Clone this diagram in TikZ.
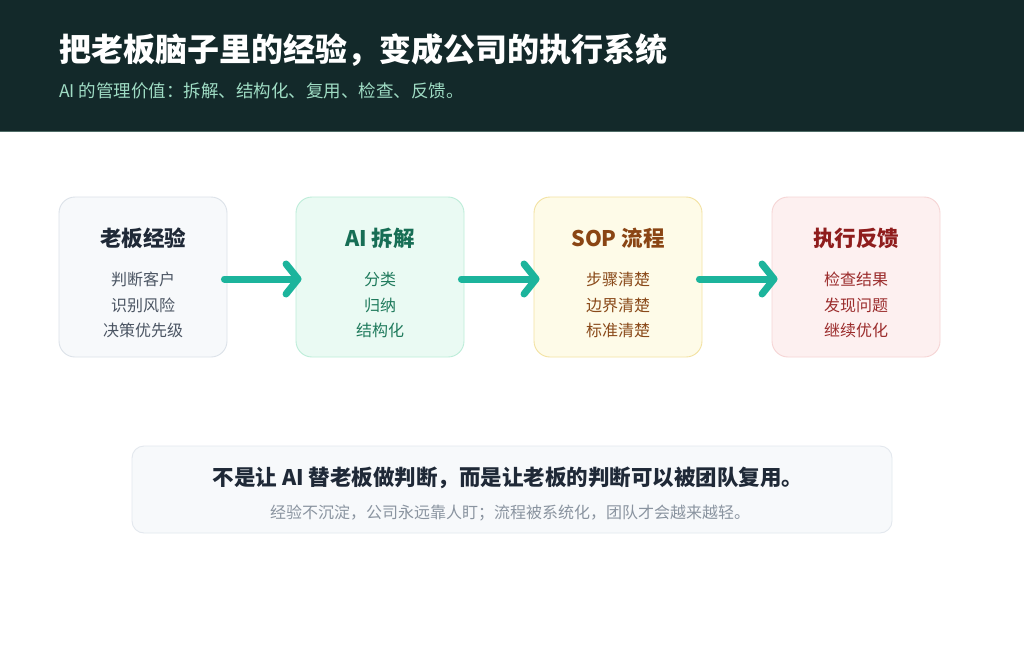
\documentclass[tikz,border=0pt]{standalone}
\usepackage{fontspec}
\setmainfont{Noto Sans CJK SC}
\usetikzlibrary{arrows.meta}
\definecolor{hdr}{HTML}{13292A}
\definecolor{hdrline}{HTML}{4E6B66}
\definecolor{subt}{HTML}{9FDCC4}
\definecolor{teal}{HTML}{1CB49C}
\definecolor{f1}{HTML}{F7F9FB}\definecolor{d1}{HTML}{DCE2E9}
\definecolor{f2}{HTML}{EAFAF3}\definecolor{d2}{HTML}{BDEDD9}
\definecolor{f3}{HTML}{FEFBE8}\definecolor{d3}{HTML}{F3E2A2}
\definecolor{f4}{HTML}{FDF0F0}\definecolor{d4}{HTML}{F6D5D5}
\definecolor{t1}{HTML}{1F2937}\definecolor{i1}{HTML}{4B5563}
\definecolor{t2}{HTML}{176E55}\definecolor{i2}{HTML}{1F7A5C}
\definecolor{t3}{HTML}{8A4514}\definecolor{i3}{HTML}{8A4A1A}
\definecolor{t4}{HTML}{8F1D1D}\definecolor{i4}{HTML}{9B2C2C}
\definecolor{bf}{HTML}{F7F9FB}\definecolor{bd}{HTML}{E3E8EE}
\definecolor{gr}{HTML}{8A94A0}
\tikzset{
  card/.style={draw, line width=0.9pt, rounded corners=16pt, minimum width=168pt, minimum height=160pt, inner sep=0pt},
  ttl/.style={font=\fontsize{21.5}{25}\selectfont\bfseries, anchor=center, inner sep=0pt},
  itm/.style={font=\fontsize{16}{19}\selectfont, anchor=center, inner sep=0pt},
  flow/.style={teal, line width=7pt, line cap=round, line join=round, -{Straight Barb[length=12pt,width=30pt,line cap=round,line join=round]}, shorten <=-3pt, shorten >=-6pt}
}
\begin{document}
\begin{tikzpicture}[x=1pt,y=-1pt]
\useasboundingbox[fill=white] (0,0) rectangle (1024,658);
\fill[hdr] (0,0) rectangle (1024,131);
\draw[hdrline, line width=1pt] (0,131) -- (1024,131);
\node[anchor=west, text=white, font=\fontsize{32}{36}\selectfont\bfseries, inner sep=0pt] (title) at (59,50) {把老板脑子里的经验，变成公司的执行系统};
\node[anchor=west, text=subt, font=\fontsize{17.5}{20}\selectfont, inner sep=0pt] (sub) at (59,91) {AI 的管理价值：拆解、结构化、复用、检查、反馈。};

\node[card, fill=f1, draw=d1] (b1) at (143,277) {};
\node[card, fill=f2, draw=d2] (b2) at (380,277) {};
\node[card, fill=f3, draw=d3] (b3) at (618,277) {};
\node[card, fill=f4, draw=d4] (b4) at (856,277) {};

\node[ttl, text=t1] (h1) at (143,238) {老板经验};
\node[ttl, text=t2] (h2) at (380,238) {AI 拆解};
\node[ttl, text=t3] (h3) at (618,238) {SOP 流程};
\node[ttl, text=t4] (h4) at (856,238) {执行反馈};

\node[itm, text=i1] (a1) at (143,279) {判断客户};
\node[itm, text=i1] (a2) at (143,305) {识别风险};
\node[itm, text=i1] (a3) at (143,330) {决策优先级};
\node[itm, text=i2] (c1) at (380,279) {分类};
\node[itm, text=i2] (c2) at (380,305) {归纳};
\node[itm, text=i2] (c3) at (380,330) {结构化};
\node[itm, text=i3] (e1) at (618,279) {步骤清楚};
\node[itm, text=i3] (e2) at (618,305) {边界清楚};
\node[itm, text=i3] (e3) at (618,330) {标准清楚};
\node[itm, text=i4] (g1) at (856,279) {检查结果};
\node[itm, text=i4] (g2) at (856,305) {发现问题};
\node[itm, text=i4] (g3) at (856,330) {继续优化};

\coordinate (p1) at (b1.east |- 0,279);
\coordinate (p2) at (b2.west |- 0,279);
\coordinate (p3) at (b2.east |- 0,279);
\coordinate (p4) at (b3.west |- 0,279);
\coordinate (p5) at (b3.east |- 0,279);
\coordinate (p6) at (b4.west |- 0,279);
\draw[flow] (p1) -- (p2);
\draw[flow] (p3) -- (p4);
\draw[flow] (p5) -- (p6);

\node[draw=bd, fill=bf, line width=0.9pt, rounded corners=12pt, minimum width=760pt, minimum height=87pt, inner sep=0pt] (note) at (512,489.5) {};
\node[text=t1, font=\fontsize{21.5}{25}\selectfont\bfseries, inner sep=0pt] (n1) at (508,478) {不是让 AI 替老板做判断，而是让老板的判断可以被团队复用。};
\node[text=gr, font=\fontsize{16}{19}\selectfont, inner sep=0pt] (n2) at (510,513) {经验不沉淀，公司永远靠人盯；流程被系统化，团队才会越来越轻。};
\end{tikzpicture}
\end{document}
